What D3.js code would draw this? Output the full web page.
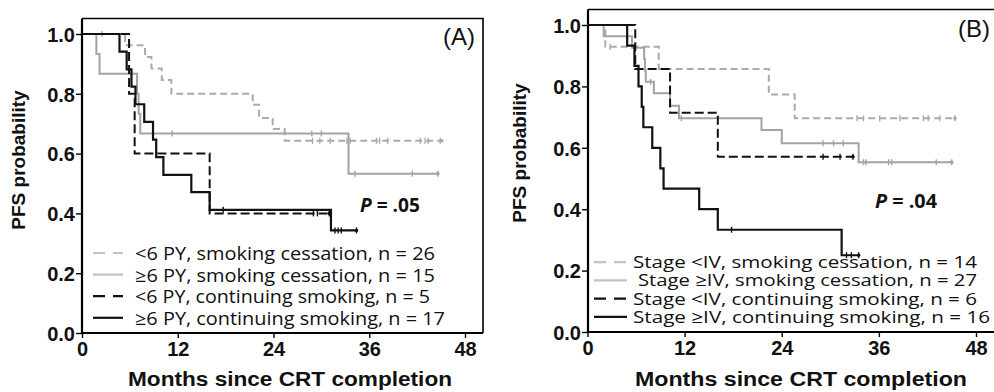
<!DOCTYPE html>
<html><head><meta charset="utf-8">
<script src="https://cdn.jsdelivr.net/npm/d3@7"></script>
<style>body{margin:0;background:#fff}svg{display:block}</style>
</head><body>
<svg id="c" width="994" height="392"></svg>
<script>
// ---------- data ----------
const monthTicks = [0, 12, 24, 36, 48];
const probTicks = [0, 0.2, 0.4, 0.6, 0.8, 1.0];

// Panel A
const aLegend = ["<6 PY, smoking cessation, n = 26", "\u22656 PY, smoking cessation, n = 15",
                 "<6 PY, continuing smoking, n = 5", "\u22656 PY, continuing smoking, n = 17"];
const a1Times = [5.4, 7.9, 8.7, 10.0, 11.2, 21.4, 22.2, 23.9, 25.4];
const a1Surv  = [0.962, 0.923, 0.885, 0.846, 0.80, 0.763, 0.719, 0.682, 0.643];
const a1Cens  = [2.5, 28.9, 29.8, 31.1, 33.2, 33.6, 36.9, 37.3, 38.3, 42.4, 43.0, 43.4, 44.9];
const a1End = 45.1;
const a2Times = [1.8, 2.2, 6.9, 7.1, 7.3, 33.4];
const a2Surv  = [0.933, 0.867, 0.8, 0.733, 0.667, 0.533];
const a2Cens  = [11.3, 28.8, 30.0, 34.2, 41.4, 44.6];
const a2End = 44.6;
const a3Times = [5.9, 6.6, 16.0];
const a3Surv  = [0.8, 0.6, 0.4];
const a3Cens  = [29.0, 29.5, 31.0];
const a3End = 31.0;
const a4Times = [4.7, 5.6, 6.2, 6.7, 7.8, 8.9, 9.3, 10.2, 13.7, 16.0, 31.2];
const a4Surv  = [0.941, 0.882, 0.824, 0.765, 0.706, 0.647, 0.588, 0.529, 0.471, 0.412, 0.343];
const a4Cens  = [17.7, 31.7, 32.1, 32.5, 34.4];
const a4End = 34.4;
const aPText = ".05";

// Panel B
const bLegend = ["Stage <IV, smoking cessation, n = 14", "Stage \u2265IV, smoking cessation, n = 27",
                 "Stage <IV, continuing smoking, n = 6", "Stage \u2265IV, continuing smoking, n = 16"];
const b1Times = [2.2, 8.8, 22.4, 25.6];
const b1Surv  = [0.929, 0.857, 0.774, 0.696];
const b1Cens  = [2.8, 33.3, 34.1, 36.1, 38.6, 41.5, 42.1, 43.5, 45.4];
const b1End = 45.4;
const b2Times = [2.0, 5.5, 7.0, 7.1, 7.2, 8.2, 10.2, 11.3, 21.5, 24.0, 33.5];
const b2Surv  = [0.963, 0.926, 0.889, 0.852, 0.815, 0.778, 0.737, 0.696, 0.658, 0.615, 0.553];
const b2Cens  = [7.8, 11.6, 29.1, 30.4, 31.6, 34.1, 34.4, 37.2, 37.6, 43.1, 45.0];
const b2End = 45.0;
const b3Times = [5.9, 10.2, 16.1];
const b3Surv  = [0.857, 0.714, 0.571];
const b3Cens  = [29.1, 31.2, 32.8];
const b3End = 32.8;
const b4Times = [4.9, 5.8, 6.3, 6.7, 6.9, 8.0, 9.0, 9.4, 13.8, 16.1, 31.4];
const b4Surv  = [0.933, 0.867, 0.8, 0.733, 0.667, 0.6, 0.533, 0.467, 0.4, 0.333, 0.25];
const b4Cens  = [17.8, 32.0, 32.6, 33.5];
const b4End = 33.5;
const bPText = ".04";

// ---------- styles ----------
const styles = [
  {color: "#aaaaaa", dash: "7,4", width: 2},
  {color: "#a3a3a3", dash: null, width: 2},
  {color: "#111111", dash: "9,4", width: 2},
  {color: "#111111", dash: null, width: 2.2}
];

const svg = d3.select("#c");

function drawPanel(cfg) {
  const x = d3.scaleLinear().domain([0, 48]).range([cfg.x0, cfg.x1]);
  const y = d3.scaleLinear().domain([0, 1]).range([cfg.y0, cfg.y1]);
  const g = svg.append("g");

  // frame (top, right)
  g.append("path").attr("d", `M${cfg.fl},${cfg.ft}H${cfg.fr}V${cfg.y0}`)
    .attr("fill", "none").attr("stroke", "#000").attr("stroke-width", 1.6);

  // axes
  const yAx = g.append("g").attr("transform", `translate(${cfg.fl},0)`)
    .call(d3.axisLeft(y).tickValues(probTicks).tickFormat(d3.format(".1f")).tickSize(6).tickSizeOuter(0));
  const xAx = g.append("g").attr("transform", `translate(0,${cfg.y0})`)
    .call(d3.axisBottom(x).tickValues(monthTicks).tickSize(5).tickSizeOuter(0));
  [yAx, xAx].forEach(a => {
    a.select(".domain").attr("stroke", "#000").attr("stroke-width", 2.2);
    a.selectAll(".tick line").attr("stroke", "#000").attr("stroke-width", 1.4);
    a.selectAll("text").attr("font-family", "Liberation Sans, Arial, sans-serif")
      .attr("font-weight", "bold").attr("font-size", 20).attr("fill", "#111");
  });
  yAx.select(".domain").attr("d", `M0,${cfg.y0}V${cfg.ft}`);
  xAx.select(".domain").attr("d", `M${cfg.fl},0H${cfg.fr}`);
  yAx.selectAll(".tick text").attr("x", -7).attr("dy", "0.36em");
  xAx.selectAll(".tick text").attr("y", 9).attr("dy", "0.72em");

  // curves
  cfg.series.forEach((s, i) => {
    const st = styles[i];
    const pts = [[0, 1]];
    s.t.forEach((t, k) => pts.push([t, s.s[k]]));
    pts.push([s.end, s.s[s.s.length - 1]]);
    const line = d3.line().x(d => x(d[0])).y(d => y(d[1])).curve(d3.curveStepAfter);
    g.append("path").attr("d", line(pts)).attr("fill", "none")
      .attr("stroke", st.color).attr("stroke-width", st.width)
      .attr("stroke-dasharray", st.dash);
    const survAt = t => { let v = 1; s.t.forEach((tt, k) => { if (tt <= t) v = s.s[k]; }); return v; };
    g.selectAll(null).data(s.c).join("line")
      .attr("x1", d => x(d)).attr("x2", d => x(d))
      .attr("y1", d => y(survAt(d)) - 3).attr("y2", d => y(survAt(d)) + 3)
      .attr("stroke", st.color).attr("stroke-width", 1.4);
    g.append("circle").attr("cx", x(s.end)).attr("cy", y(s.s[s.s.length - 1])).attr("r", 1.8)
      .attr("fill", st.color);
  });

  // legend
  cfg.legend.forEach((txt, i) => {
    const st = styles[i];
    const by = cfg.legBase + i * cfg.legStep;
    g.append("line").attr("x1", cfg.legX0).attr("x2", cfg.legX1)
      .attr("y1", by - cfg.legOff).attr("y2", by - cfg.legOff)
      .attr("stroke", st.color === "#111111" ? "#111" : "#c4c4c4").attr("stroke-width", 2.2)
      .attr("stroke-dasharray", st.dash ? "12,8" : null);
    g.append("text").attr("x", cfg.legTx[i]).attr("y", by)
      .attr("font-family", "Open Sans, Noto Sans, sans-serif").attr("font-size", cfg.legFont)
      .attr("fill", "#111").attr("textLength", cfg.legW[i]).attr("lengthAdjust", "spacingAndGlyphs")
      .text(txt);
  });

  // P value
  const pt = g.append("text").attr("x", cfg.px).attr("y", cfg.py)
    .attr("font-family", "Open Sans, Noto Sans, sans-serif").attr("font-weight", "bold")
    .attr("font-size", 20).attr("fill", "#111").attr("textLength", cfg.pw).attr("lengthAdjust", "spacingAndGlyphs");
  pt.append("tspan").attr("font-style", "italic").text("P");
  pt.append("tspan").text(" = " + cfg.pText);

  // panel label
  g.append("text").attr("x", cfg.lx).attr("y", cfg.ly)
    .attr("font-family", "Liberation Sans, Arial, sans-serif").attr("font-size", 24).attr("fill", "#111")
    .text(cfg.label);

  // axis titles
  g.append("text").attr("transform", `translate(${cfg.ytx},${cfg.yty}) rotate(-90)`)
    .attr("text-anchor", "middle").attr("font-family", "Liberation Sans, Arial, sans-serif")
    .attr("font-weight", "bold").attr("font-size", 19).attr("fill", "#111").text("PFS probability");
  g.append("text").attr("x", cfg.xtx).attr("y", 386)
    .attr("font-family", "Liberation Sans, Arial, sans-serif")
    .attr("font-weight", "bold").attr("font-size", 20).attr("fill", "#111")
    .attr("textLength", cfg.xtw).attr("lengthAdjust", "spacingAndGlyphs")
    .text("Months since CRT completion");
}

drawPanel({
  x0: 82, x1: 465, y0: 333, y1: 34, fl: 82, ft: 18.5, fr: 483,
  series: [
    {t: a1Times, s: a1Surv, c: a1Cens, end: a1End},
    {t: a2Times, s: a2Surv, c: a2Cens, end: a2End},
    {t: a3Times, s: a3Surv, c: a3Cens, end: a3End},
    {t: a4Times, s: a4Surv, c: a4Cens, end: a4End}
  ],
  legend: aLegend, legBase: 260, legStep: 21.6, legOff: 7, legX0: 93, legX1: 123,
  legTx: [135, 135, 135, 135], legW: [300, 300, 295, 310], legFont: 18,
  px: 360, py: 211.5, pw: 60, pText: aPText,
  lx: 443, ly: 45, label: "(A)",
  ytx: 25, yty: 160, xtx: 128, xtw: 324
});

drawPanel({
  x0: 587.5, x1: 976, y0: 332, y1: 25, fl: 588, ft: 9.5, fr: 998,
  series: [
    {t: b1Times, s: b1Surv, c: b1Cens, end: b1End},
    {t: b2Times, s: b2Surv, c: b2Cens, end: b2End},
    {t: b3Times, s: b3Surv, c: b3Cens, end: b3End},
    {t: b4Times, s: b4Surv, c: b4Cens, end: b4End}
  ],
  legend: bLegend, legBase: 268.2, legStep: 18.2, legOff: 6, legX0: 594, legX1: 627,
  legTx: [633, 638, 633, 633], legW: [344, 339, 344, 357], legFont: 17,
  px: 875, py: 208, pw: 62, pText: bPText,
  lx: 958, ly: 37, label: "(B)",
  ytx: 526, yty: 153, xtx: 635, xtw: 332
});
</script>
</body></html>
